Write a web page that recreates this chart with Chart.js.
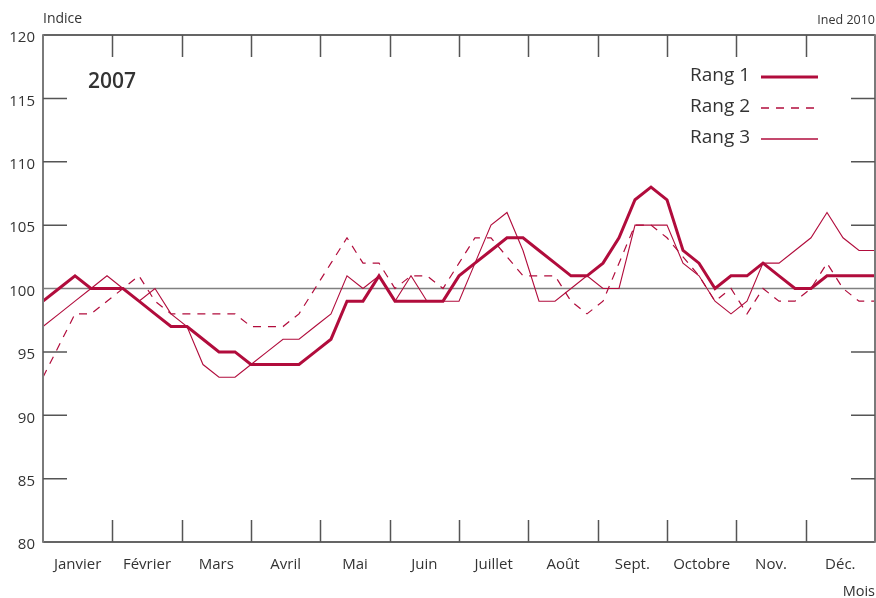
<!DOCTYPE html>
<html>
<head>
<meta charset="utf-8">
<script src="https://cdn.jsdelivr.net/npm/chart.js@4.4.1/dist/chart.umd.min.js"></script>
<style>
  html, body { margin: 0; padding: 0; background: #fff; }
</style>
</head>
<body>
<canvas id="graphique" width="876" height="598"></canvas>
<script>
// Données (indice hebdomadaire, 53 semaines)
const mois = ["Janvier", "Février", "Mars", "Avril", "Mai", "Juin", "Juillet", "Août", "Sept.", "Octobre", "Nov.", "Déc."];
const rang1 = [99, 100, 101, 100, 100, 100, 99, 98, 97, 97, 96, 95, 95, 94, 94, 94, 94, 95, 96, 99, 99, 101, 99, 99, 99, 99,
  101, 102, 103, 104, 104, 103, 102, 101, 101, 102, 104, 107, 108, 107, 103, 102, 100, 101, 101, 102, 101, 100, 100, 101, 101, 101, 101];
const rang2 = [93, 95.5, 98, 98, 99, 100, 101, 99, 98, 98, 98, 98, 98, 97, 97, 97, 98, 100, 102, 104, 102, 102, 100, 101, 101, 100,
  102, 104, 104, 102.5, 101, 101, 101, 99, 98, 99, 102, 105, 105, 104, 102.5, 101, 99, 100, 98, 100, 99, 99, 100, 102, 100, 99, 99];
const rang3 = [97, 98, 99, 100, 101, 100, 99, 100, 98, 97, 94, 93, 93, 94, 95, 96, 96, 97, 98, 101, 100, 101, 99, 101, 99, 99,
  99, 102, 105, 106, 103, 99, 99, 100, 101, 100, 100, 105, 105, 105, 102, 101, 99, 98, 99, 102, 102, 103, 104, 106, 104, 103, 103];
const yTicks = [80, 85, 90, 95, 100, 105, 110, 115, 120];

const rouge = "#b10c3c";
const texte = "#333333";
const police = "'Open Sans', 'Noto Sans', sans-serif";
const nbSemaines = rang1.length - 1;

function points(serie) {
  return serie.map((v, i) => ({ x: i, y: v }));
}

// cadre, repères et légende
const cadre = {
  id: "cadre",
  beforeDatasetsDraw(chart) {
    const { ctx, chartArea: a, scales: { y } } = chart;
    ctx.save();
    ctx.strokeStyle = "#808080";
    ctx.lineWidth = 1.5;
    const y100 = y.getPixelForValue(100);
    ctx.beginPath();
    ctx.moveTo(a.left, y100);
    ctx.lineTo(a.right, y100);
    ctx.stroke();
    ctx.restore();
  },
  afterDatasetsDraw(chart) {
    const { ctx, chartArea: a, scales: { x, y } } = chart;
    ctx.save();
    // bords
    ctx.lineWidth = 1.5;
    ctx.strokeStyle = "#333";
    ctx.beginPath();
    ctx.moveTo(a.left, a.top); ctx.lineTo(a.right, a.top);
    ctx.moveTo(a.left, a.bottom); ctx.lineTo(a.right, a.bottom);
    ctx.stroke();
    ctx.strokeStyle = "#7a7a7a";
    ctx.lineWidth = 2;
    ctx.beginPath();
    ctx.moveTo(a.left, a.top - 0.75); ctx.lineTo(a.left, a.bottom + 0.75);
    ctx.moveTo(a.right, a.top - 0.75); ctx.lineTo(a.right, a.bottom + 0.75);
    ctx.stroke();
    // graduations internes
    ctx.strokeStyle = "#555";
    ctx.lineWidth = 1.5;
    ctx.beginPath();
    yTicks.slice(1, -1).forEach(v => {
      if (v === 100) return;
      const py = y.getPixelForValue(v);
      ctx.moveTo(a.left, py); ctx.lineTo(a.left + 24, py);
      ctx.moveTo(a.right, py); ctx.lineTo(a.right - 24, py);
    });
    for (let k = 1; k < mois.length; k++) {
      const px = Math.round(x.getPixelForValue(k * nbSemaines / mois.length)) + 0.5;
      ctx.moveTo(px, a.top); ctx.lineTo(px, a.top + 22);
      ctx.moveTo(px, a.bottom); ctx.lineTo(px, a.bottom - 22);
    }
    ctx.stroke();
    ctx.restore();
  },
  afterDraw(chart) {
    const { ctx } = chart;
    ctx.save();
    ctx.fillStyle = texte;
    ctx.textBaseline = "middle";
    ctx.font = "14px " + police;
    ctx.textAlign = "left";
    ctx.fillText("Indice", 43, 19);
    ctx.font = "12.5px " + police;
    ctx.textAlign = "right";
    ctx.fillText("Ined 2010", 875, 20);
    ctx.font = "14.5px " + police;
    ctx.fillText("Mois", 875, 592);
    ctx.font = "600 21px " + police;
    ctx.textAlign = "left";
    ctx.fillText("2007", 88, 82);
    // légende
    ctx.font = "19px " + police;
    ctx.textAlign = "right";
    chart.data.datasets.forEach((ds, i) => {
      const ly = 76 + i * 31;
      ctx.fillStyle = texte;
      ctx.fillText(ds.label, 750, ly);
      ctx.strokeStyle = ds.borderColor;
      ctx.lineWidth = ds.borderWidth === 3 ? 3 : 1.4;
      ctx.setLineDash(ds.borderDash || []);
      ctx.beginPath();
      ctx.moveTo(761, ly + 1);
      ctx.lineTo(818, ly + 1);
      ctx.stroke();
    });
    ctx.restore();
  }
};

new Chart(document.getElementById("graphique"), {
  type: "line",
  data: {
    datasets: [
      { label: "Rang 1", data: points(rang1), borderColor: rouge, borderWidth: 3, pointRadius: 0, tension: 0, order: 1 },
      { label: "Rang 2", data: points(rang2), borderColor: rouge, borderWidth: 1.2, borderDash: [8, 7], pointRadius: 0, tension: 0, order: 2 },
      { label: "Rang 3", data: points(rang3), borderColor: rouge, borderWidth: 1.1, pointRadius: 0, tension: 0, order: 3 }
    ]
  },
  options: {
    responsive: false,
    animation: false,
    layout: { padding: { top: 35, right: 1, left: 0, bottom: 0 } },
    plugins: { legend: { display: false }, tooltip: { enabled: false } },
    scales: {
      x: {
        type: "linear",
        min: 0,
        max: nbSemaines,
        grid: { display: false, drawTicks: false },
        border: { display: false },
        afterFit: s => { s.height = 56; },
        afterBuildTicks: s => { s.ticks = mois.map((m, k) => ({ value: (k + 0.5) * nbSemaines / mois.length })); },
        ticks: {
          autoSkip: false,
          maxRotation: 0,
          padding: 14,
          color: texte,
          font: { family: police, size: 15 },
          callback: (v, i) => mois[i]
        }
      },
      y: {
        min: 80,
        max: 120,
        grid: { display: false, drawTicks: false },
        border: { display: false },
        afterFit: s => { s.width = 43; },
        afterBuildTicks: s => { s.ticks = yTicks.map(v => ({ value: v })); },
        ticks: { padding: 8, labelOffset: 3, color: texte, font: { family: police, size: 15 } }
      }
    }
  },
  plugins: [cadre]
});
</script>
</body>
</html>
